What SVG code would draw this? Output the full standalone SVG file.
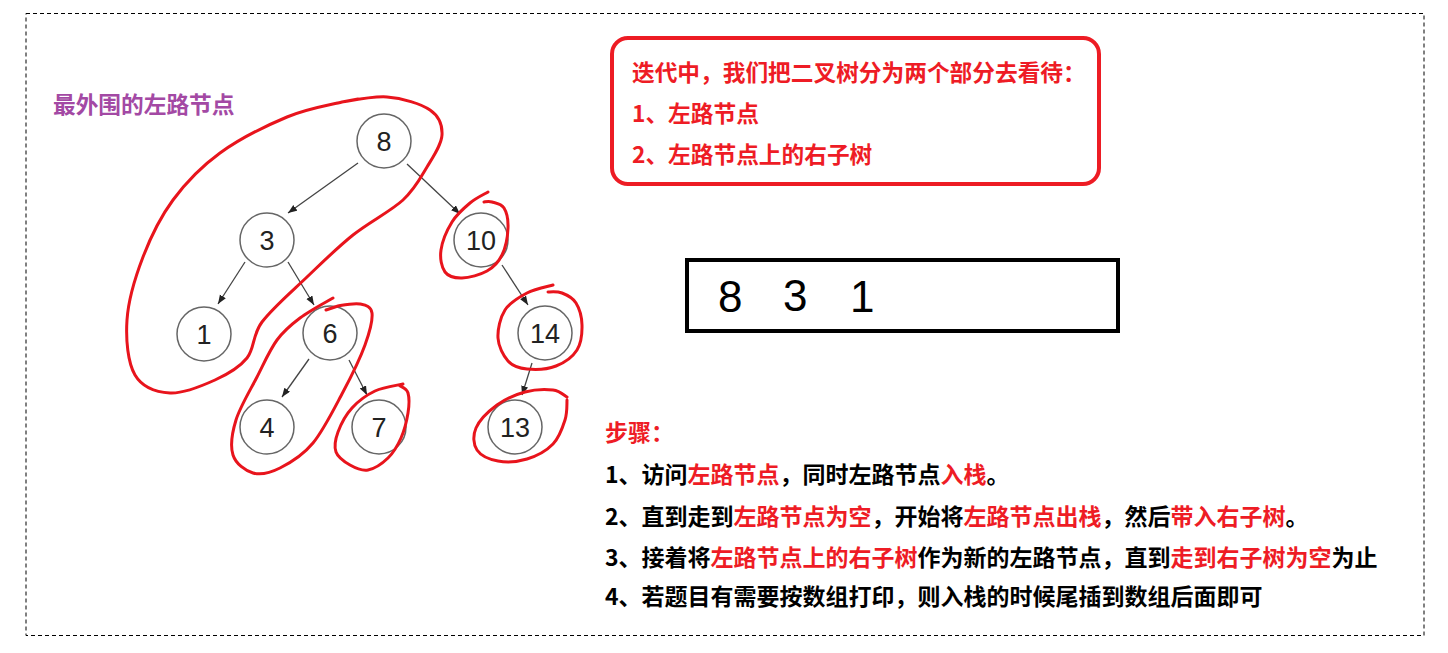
<svg xmlns="http://www.w3.org/2000/svg" width="1448" height="653" viewBox="0 0 1448 653">
<defs>
<marker id="arr" markerUnits="userSpaceOnUse" markerWidth="10" markerHeight="8" refX="9" refY="3.5" orient="auto">
<path d="M0,0 L9,3.5 L0,7 z" fill="#222"/>
</marker>
</defs>
<style>
.cjk{font-family:"Noto Sans CJK SC","Microsoft YaHei",sans-serif;font-weight:bold;font-size:22.7px}
.step{font-size:23px}
.red{fill:#ee1c25}
.blk{fill:#000}
.node circle{fill:#fff;stroke:#666;stroke-width:1.5}
.node text{font-family:"Liberation Sans",Arial,sans-serif;font-size:27px;fill:#222;text-anchor:middle}
.edge{stroke:#444;stroke-width:1.3;fill:none;marker-end:url(#arr)}
.loop{stroke:#e8141c;stroke-width:3;fill:none;stroke-linecap:round;stroke-linejoin:round}
.hand{font-family:"Liberation Sans",Arial,sans-serif;font-size:44px;fill:#000}
</style>
<rect width="1448" height="653" fill="#fff"/>
<rect x="26" y="13.5" width="1398" height="622" fill="none" stroke="#000" stroke-width="1" stroke-dasharray="4,3"/>

<text id="title-left" class="cjk" x="53" y="113" fill="#a349a4">最外围的左路节点</text>

<g id="connectors">
<line class="edge" x1="358" y1="163" x2="288" y2="213"/>
<line class="edge" x1="407" y1="164" x2="460" y2="214"/>
<line class="edge" x1="245" y1="262" x2="218" y2="304"/>
<line class="edge" x1="288" y1="262" x2="314" y2="305"/>
<line class="edge" x1="502" y1="265" x2="528" y2="305"/>
<line class="edge" x1="309" y1="359" x2="282" y2="397"/>
<line class="edge" x1="349" y1="360" x2="367" y2="395"/>
<line class="edge" x1="532" y1="363" x2="522" y2="395"/>
</g>

<g id="n8" class="node"><circle cx="384" cy="141" r="27"/><text x="384" y="151">8</text></g>
<g id="n3" class="node"><circle cx="267" cy="240" r="27"/><text x="267" y="250">3</text></g>
<g id="n10" class="node"><circle cx="481" cy="240" r="27"/><text x="481" y="250">10</text></g>
<g id="n1" class="node"><circle cx="204" cy="334" r="27"/><text x="204" y="344">1</text></g>
<g id="n6" class="node"><circle cx="330" cy="333" r="27"/><text x="330" y="343">6</text></g>
<g id="n14" class="node"><circle cx="545" cy="333" r="27"/><text x="545" y="343">14</text></g>
<g id="n4" class="node"><circle cx="267" cy="427" r="27"/><text x="267" y="437">4</text></g>
<g id="n7" class="node"><circle cx="379" cy="427" r="27"/><text x="379" y="437">7</text></g>
<g id="n13" class="node"><circle cx="515" cy="427" r="27"/><text x="515" y="437">13</text></g>

<g id="loops">
<path class="loop" d="M337,103 C345.3,102 371.5,95.8 387,97 S420.8,103.7 430,110 S442.5,125.5 442,135 S433.5,156.2 427,167 S415.3,188.7 403,200 S369,222.2 353,235 S322.2,262.5 307,277 S272,308.5 262,322 S254.8,348.3 247,358 S227.8,374.2 215,380 S183.3,393.8 170,393 S142.2,387.2 135,375 S125.7,339.7 127,320 S135.3,277 143,257 S160.2,217.3 173,200 S201,166.8 220,153 S266.7,125.5 287,117 S329.8,105 342,102 L358,99"/>
<path class="loop" d="M333,298 C327.5,301.3 309.3,311 300,318 S284.2,330.2 277,340 S263.8,363.7 257,377 S240,407 236,420 S230.2,446.2 233,455 S245.2,470.8 253,473 S270,473 280,468 S302.5,455.7 313,443 S334.3,408.3 343,392 S360.2,358.2 365,345 S372.8,319.8 372,313 S365.7,305.2 360,304 S343.8,305 338,306 L326,310"/>
<path class="loop" d="M403,384 C398.3,385.2 383.5,387 375,391 S358.2,401.2 352,408 S340.7,424.7 338,432 S334,446.5 336,452 S344.7,462 350,465 S361.7,471.2 368,470 S382.5,463.3 388,458 S397.7,445.5 401,438 S406.8,420.5 408,413 S409.3,397.5 408,393 S403,387.5 400,386"/>
<path class="loop" d="M488,192 C485,193.8 476,198 470,203 S456.8,214.2 452,222 S442.2,241.7 441,250 S441.5,267.3 445,272 S455,278.2 462,278 S480.3,274.8 487,271 S498.5,262.2 502,255 S507.7,235.8 508,228 S506.7,212.3 504,208 S495.3,203 492,202 S486.3,201.7 484,202"/>
<path class="loop" d="M553,285 C548.7,286.3 535,288.8 527,293 S509.8,302.5 505,310 S497.5,329.5 498,338 S503.2,355.8 508,361 S519,368.2 527,369 S547.7,369.2 556,366 S572.7,356.8 577,350 S582.2,332.8 582,325 S579.3,308.3 576,303 S566.7,294.8 562,293 S552,291.8 548,292"/>
<path class="loop" d="M567,397 C564.7,395.8 560,390.8 553,390 S534.3,389.5 525,392 S505.2,399 497,405 S479.3,420.5 476,428 S473.3,444.5 477,450 S489.7,459.5 498,461 S517.8,461.8 527,459 S546.7,450.5 553,444 S562.7,427.3 565,420 S566.8,405.8 567,400"/>
</g>

<g id="note-box">
<rect x="612" y="38" width="487" height="146" rx="16" ry="16" fill="#fff" stroke="#ed1c24" stroke-width="4"/>
<text class="cjk red" x="632" y="81">迭代中，我们把二叉树分为两个部分去看待：</text>
<text class="cjk red" x="632" y="122">1、左路节点</text>
<text class="cjk red" x="632" y="163">2、左路节点上的右子树</text>
</g>

<g id="stack">
<rect x="687" y="260" width="431" height="71" fill="#fff" stroke="#000" stroke-width="4"/>
<text class="hand" x="718" y="312">8</text>
<text class="hand" x="783" y="311">3</text>
<text class="hand" x="850" y="312">1</text>
</g>

<g id="steps">
<text class="cjk step red" x="605" y="441">步骤：</text>
<text class="cjk step blk" x="605" y="483">1、访问<tspan class="red">左路节点</tspan>，同时左路节点<tspan class="red">入栈</tspan>。</text>
<text class="cjk step blk" x="605" y="525">2、直到走到<tspan class="red">左路节点为空</tspan>，开始将<tspan class="red">左路节点出栈</tspan>，然后<tspan class="red">带入右子树</tspan>。</text>
<text class="cjk step blk" x="605" y="566">3、接着将<tspan class="red">左路节点上的右子树</tspan>作为新的左路节点，直到<tspan class="red">走到右子树为空</tspan>为止</text>
<text class="cjk step blk" x="605" y="605">4、若题目有需要按数组打印，则入栈的时候尾插到数组后面即可</text>
</g>
</svg>
